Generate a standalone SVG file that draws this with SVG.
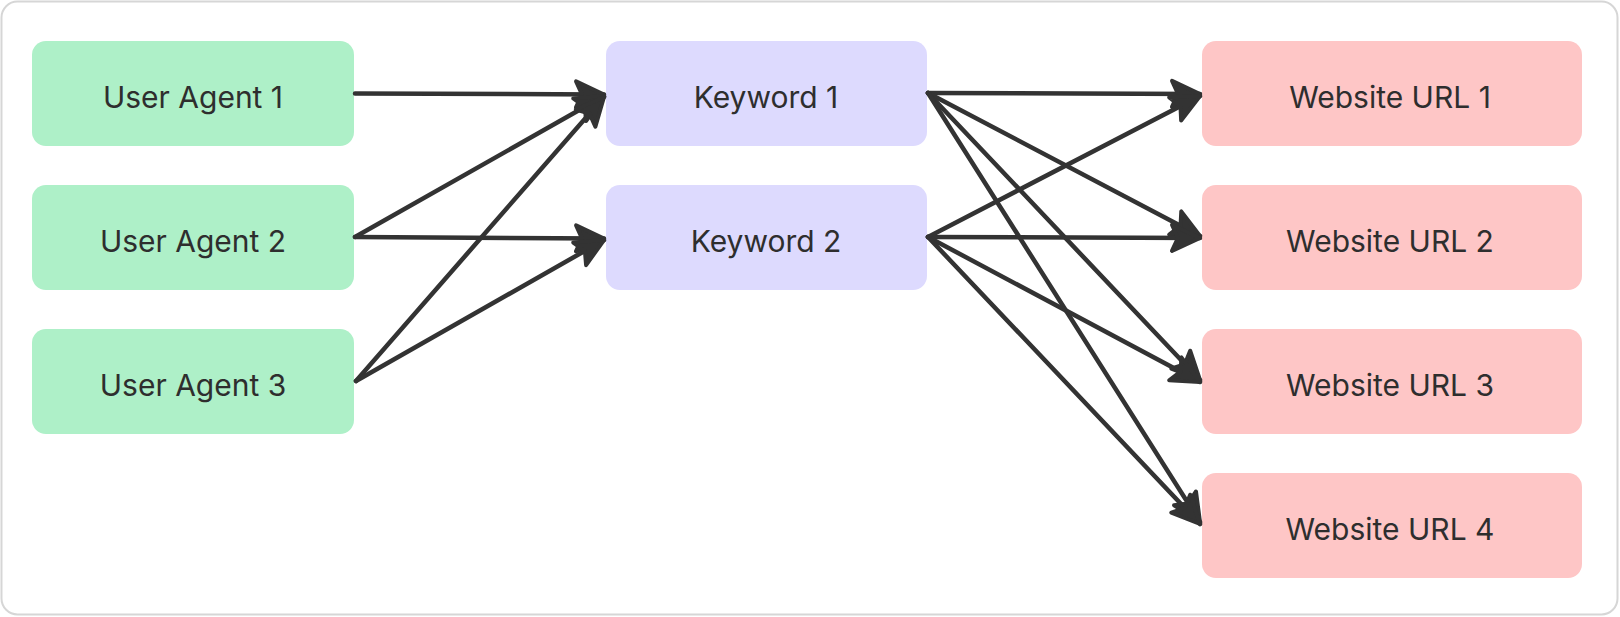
<svg xmlns="http://www.w3.org/2000/svg" width="1620" height="617" viewBox="0 0 1620 617">
  <defs>
    <style>
      .frame { fill: #ffffff; stroke: #d6d6d6; stroke-width: 2; }
      .agent { fill: #aef0c8; }
      .keyword { fill: #dddafe; }
      .site { fill: #fec6c6; }
      .label { font-family: Inter, "Liberation Sans", sans-serif; font-size: 30px; fill: #2e2e2e; text-anchor: middle; }
      .edge { fill: none; stroke: #333333; stroke-width: 4.5; stroke-linecap: round; }
    </style>
    <marker id="head" markerUnits="userSpaceOnUse" viewBox="-34 -18 38 36" refX="0" refY="0" markerWidth="38" markerHeight="36" orient="auto" overflow="visible">
      <path d="M0,0 L-28,-13 L-22,0 L-28,13 Z" fill="#333333" stroke="#333333" stroke-width="4" stroke-linejoin="round"/>
    </marker>
  </defs>

  <!-- outer frame -->
  <rect class="frame" x="1.5" y="1.5" width="1616" height="613" rx="16"/>

  <!-- source column -->
  <g id="ua1"><rect class="agent" x="32" y="41" width="322" height="105" rx="14"/><text class="label" x="193" y="108">User Agent 1</text></g>
  <g id="ua2"><rect class="agent" x="32" y="185" width="322" height="105" rx="14"/><text class="label" x="193" y="252">User Agent 2</text></g>
  <g id="ua3"><rect class="agent" x="32" y="329" width="322" height="105" rx="14"/><text class="label" x="193" y="396">User Agent 3</text></g>

  <!-- middle column -->
  <g id="kw1"><rect class="keyword" x="606" y="41" width="321" height="105" rx="14"/><text class="label" x="766" y="108">Keyword 1</text></g>
  <g id="kw2"><rect class="keyword" x="606" y="185" width="321" height="105" rx="14"/><text class="label" x="766" y="252">Keyword 2</text></g>

  <!-- target column -->
  <g id="url1"><rect class="site" x="1202" y="41" width="380" height="105" rx="14"/><text class="label" x="1390" y="108">Website URL 1</text></g>
  <g id="url2"><rect class="site" x="1202" y="185" width="380" height="105" rx="14"/><text class="label" x="1390" y="252">Website URL 2</text></g>
  <g id="url3"><rect class="site" x="1202" y="329" width="380" height="105" rx="14"/><text class="label" x="1390" y="396">Website URL 3</text></g>
  <g id="url4"><rect class="site" x="1202" y="473" width="380" height="105" rx="14"/><text class="label" x="1390" y="540">Website URL 4</text></g>

  <!-- connectors -->
  <g id="edges">
    <line class="edge" x1="355" y1="93.5" x2="604" y2="94.5" marker-end="url(#head)"/>
    <line class="edge" x1="355" y1="237" x2="604" y2="96" marker-end="url(#head)"/>
    <line class="edge" x1="355" y1="237" x2="604" y2="238.5" marker-end="url(#head)"/>
    <line class="edge" x1="356" y1="381" x2="604" y2="97" marker-end="url(#head)"/>
    <line class="edge" x1="356" y1="381" x2="604" y2="240" marker-end="url(#head)"/>

    <line class="edge" x1="928" y1="93" x2="1200" y2="94" marker-end="url(#head)"/>
    <line class="edge" x1="928" y1="93" x2="1200" y2="236" marker-end="url(#head)"/>
    <line class="edge" x1="928" y1="93" x2="1200" y2="380" marker-end="url(#head)"/>
    <line class="edge" x1="928" y1="93" x2="1200" y2="522" marker-end="url(#head)"/>
    <line class="edge" x1="928" y1="237" x2="1200" y2="96" marker-end="url(#head)"/>
    <line class="edge" x1="928" y1="237" x2="1200" y2="238" marker-end="url(#head)"/>
    <line class="edge" x1="928" y1="237" x2="1200" y2="382" marker-end="url(#head)"/>
    <line class="edge" x1="928" y1="237" x2="1200" y2="524" marker-end="url(#head)"/>
  </g>
</svg>
